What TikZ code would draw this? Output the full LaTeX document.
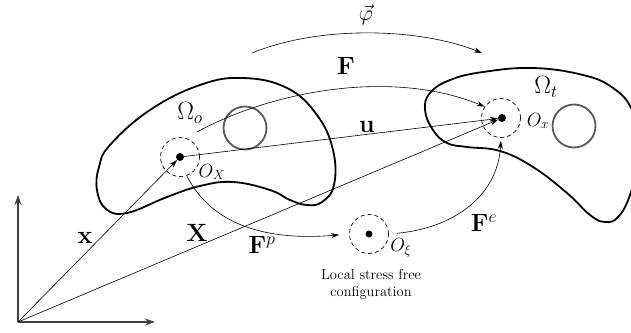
\RequirePackage{fix-cm}
\documentclass[tikz,border=0pt]{standalone}
\usetikzlibrary{arrows.meta}
\begin{document}
\begin{tikzpicture}[x=1pt,y=-1pt,
 thinln/.style={line width=0.6pt},
 arr/.style={thinln,-{Stealth[length=8pt,width=5pt]}},
 axis/.style={line width=1.1pt,draw=black!75,-{Stealth[length=10pt,width=7pt]}},
 blob/.style={line width=1.8pt},
 hole/.style={circle,draw=black!65,line width=1.8pt,minimum size=43pt,inner sep=0pt},
 dcirc/.style={circle,draw,dash pattern=on 4pt off 3pt,line width=0.7pt,minimum size=39pt,inner sep=0pt},
 dot/.style={circle,fill,minimum size=8pt,inner sep=0pt},
 biglbl/.style={font=\fontsize{25}{29}\selectfont,inner sep=0pt},
 philbl/.style={font=\fontsize{22}{26}\selectfont,inner sep=0pt},
 olbl/.style={font=\fontsize{19}{22}\selectfont,inner sep=0pt},
 txt/.style={font=\fontsize{14.5}{17}\selectfont,align=center,inner sep=0pt}]
\useasboundingbox (0,0) rectangle (631,332);
\clip (0,0) rectangle (631,332);

% bodies
\draw[blob] plot[smooth cycle, tension=0.7] coordinates {
 (333,150) (334,185) (322,202) (307,205) (290,200) (270,190) (233,182)
 (200,186) (167,197) (127,213) (106,209) (97,190) (99,167) (110,145)
 (150,110) (200,85) (243,78) (287,88) (317,115)};
\draw[blob] plot[smooth cycle, tension=0.7] coordinates {
 (425,110) (430,93) (450,80) (483,72) (533,68) (583,75) (613,88) (632,110)
 (642,150) (630,195) (618,217) (605,222) (590,215) (567,193) (533,167)
 (500,151) (467,147) (447,143) (433,130)};

% holes
\node[hole] (h1) at (245,128) {};
\node[hole] (h2) at (574,126) {};

% points
\coordinate (O) at (18,322);
\coordinate (ytip) at (18,195);
\coordinate (xtip) at (155,322);
\node[dcirc] (cX) at (180,157) {};
\node[dot] (OX) at (180,157) {};
\node[dcirc] (cx) at (501,118) {};
\node[dot] (Ox) at (502,118) {};
\node[dcirc] (cxi) at (369,234) {};
\node[dot, minimum size=7pt] (Oxi) at (369,234) {};
\coordinate (Fs) at (197,132);
\coordinate (ps) at (252,53);
\coordinate (pe) at (482,53);

% axes
\draw[axis] (O) -- (ytip);
\draw[axis] (O) -- (xtip);

% vectors
\draw[arr] (O) -- (OX);
\draw[arr] (O) -- (Ox);
\draw[arr] (OX) -- (Ox);
\draw[arr] (Fs) .. controls (270,92) and (390,68) .. (cx.145);
\draw[arr] (ps) .. controls (320,25) and (420,28) .. (pe);
\draw[arr, shorten >=10pt] (cX.-70) .. controls (215,232) and (280,240) .. (cxi.west);
\draw[arr, shorten <=8pt, shorten >=3pt] (cxi.east) .. controls (455,228) and (498,195) .. (cx.south);

% labels
\node[philbl] (lphi) at (366,15) {$\vec{\varphi}$};
\node[biglbl] (lF) at (346,66) {$\mathbf{F}$};
\node[biglbl] (lu) at (367,127) {$\mathbf{u}$};
\node[biglbl] (lOo) at (190,113) {$\Omega_o$};
\node[biglbl] (lOt) at (546,87) {$\Omega_t$};
\node[olbl] (lOX) at (212,172) {$O_X$};
\node[olbl] (lOxr) at (538,121) {$O_x$};
\node[olbl] (lOxi) at (401,248) {$O_\xi$};
\node[biglbl] (lx) at (85,238) {$\mathbf{x}$};
\node[biglbl] (lX) at (197,233) {$\mathbf{X}$};
\node[biglbl] (lFp) at (262,245) {$\mathbf{F}^p$};
\node[biglbl] (lFe) at (484,223) {$\mathbf{F}^e$};
\node[txt] (ltxt) at (371,284) {Local stress free\\configuration};
\end{tikzpicture}
\end{document}
